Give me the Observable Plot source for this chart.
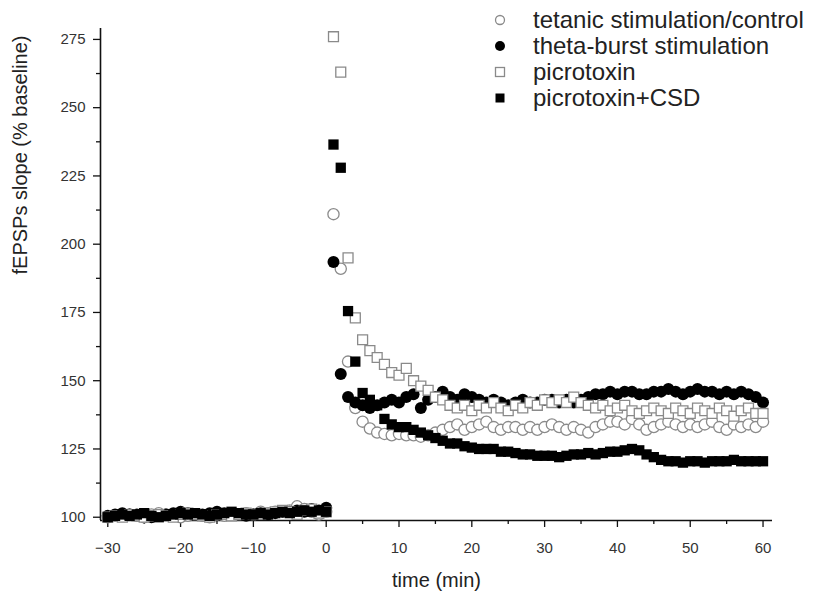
<!DOCTYPE html>
<html><head><meta charset="utf-8">
<script src="https://cdn.jsdelivr.net/npm/d3@7"></script>
<script src="https://cdn.jsdelivr.net/npm/@observablehq/plot@0.6"></script>
<style>
body{margin:0;background:#fff;}
#wrap{position:relative;width:816px;height:603px;font-family:"Liberation Sans",Arial,sans-serif;}
#legend{position:absolute;left:488px;top:7px;}
.row{display:flex;align-items:center;height:26px;font-size:24px;color:#222;white-space:nowrap;}
.row svg{width:24px;height:20px;margin-right:21px;}
</style></head><body><div id="wrap"><div id="chart"></div><div id="legend"></div></div>
<script>
// time grid (min)
const times = d3.range(-30, 61);
const seriesNames = ["tetanic stimulation/control", "theta-burst stimulation", "picrotoxin", "picrotoxin+CSD"];
const xTicks = [-30, -20, -10, 0, 10, 20, 30, 40, 50, 60];
const yTicks = [100, 125, 150, 175, 200, 225, 250, 275];

const tetanic = [
  100, 100.5, 101, 101, 100.5, 100, 101, 101.5, 101, 100.5, 100, 100.5, 101, 100.5, 100, 101, 100.5, 101, 101, 101.5, 101, 102, 101.5, 102, 102, 102.5, 104, 103, 102, 101, 102,
  211, 191, 157, 140, 135, 132.5, 131, 130.5, 130, 130.5,
  130, 130, 129.5, 130, 131, 132, 133, 134, 132, 133,
  134, 135, 133, 132, 133, 133, 132, 133, 132, 133,
  134, 133, 132, 133, 132, 131, 133, 134, 135, 135,
  134, 136, 134, 132, 133, 134, 135, 134, 133, 134,
  133, 134, 135, 133, 132, 134, 133, 134, 133, 135
];
const thetaBurst = [
  100.5, 101, 101.5, 101, 101, 100.5, 100, 100.5, 101, 101.5, 102, 101.5, 101, 101, 101.5, 102, 101.5, 101, 101, 100.5, 101, 101.5, 101, 101.5, 102, 102, 102.5, 102, 103, 102.5, 103.5,
  193.5, 152.5, 144, 142, 141, 140, 141, 142, 143, 142,
  144, 145, 140, 143, 144, 146, 144, 143, 145, 144,
  143, 142, 143, 142, 141, 142, 143, 142, 142, 143,
  143, 142, 143, 142, 143, 144, 145, 145, 146, 145,
  146, 146, 145, 145, 146, 146, 147, 146, 145, 146,
  147, 146, 146, 145, 146, 145, 146, 145, 144, 142
];
const picrotoxin = [
  100, 100.5, 100, 101, 100.5, 100, 100.5, 101, 100.5, 100, 101, 101.5, 101, 100.5, 100, 101, 101, 100.5, 101, 101.5, 101, 101, 101.5, 102, 102.5, 102, 101, 102.5, 103, 101.5, 102,
  276, 263, 195, 173, 165, 161, 158.5, 156, 153, 152,
  154.5, 150, 148, 146.5, 144, 143, 141, 140, 141, 139,
  141, 140, 142, 140, 139, 141, 140, 142, 141, 143,
  142, 143, 142, 144, 142, 141, 140, 141, 139, 140,
  141, 139, 138, 139, 140, 139, 138, 140, 139, 138,
  140, 139, 138, 140, 139, 137, 139, 140, 138, 138
];
const picrotoxinCSD = [
  100, 100.5, 101, 100.5, 101, 101.5, 100.5, 100, 100.5, 101, 101.5, 101, 101.5, 101, 100.5, 101, 101.5, 102, 101.5, 101, 101, 101.5, 101, 101.5, 102, 101.5, 102, 102.5, 102, 102.5, 102,
  236.5, 228, 175.5, 157, 145.5, 143, 141, 136, 134, 133,
  133, 132, 131, 130, 129, 128, 127, 127, 126, 125.5,
  125, 125, 125, 124, 124, 123.5, 123, 123, 122.5, 122.5,
  122.5, 122, 122.5, 123, 123, 123.5, 123, 123.5, 124, 124,
  124.5, 125, 124.5, 123, 122, 121, 120.5, 120.5, 120, 120.5,
  120.5, 120, 120.5, 120.5, 120.5, 121, 120.5, 120.5, 120.5, 120.5
];

const toRows = (vals) => vals.map((v, i) => ({t: times[i], v}));
const xMinor = d3.range(-25, 61, 10);
const yMinor = d3.range(112.5, 276, 25);
const xDom = [-31, 61.3], yDom = [98.8, 279];
const openStroke = "#8a8a8a";
const font = "Liberation Sans, Arial, sans-serif";

const chart = Plot.plot({
  width: 816, height: 603,
  marginLeft: 100, marginRight: 44, marginTop: 28, marginBottom: 83,
  style: {fontFamily: font, background: "white", overflow: "visible"},
  x: {domain: xDom},
  y: {domain: yDom},
  marks: [
    Plot.axisX(xTicks, {tickSize: 7, tickPadding: 15, fontSize: 15, fill: "#333", stroke: "#111", strokeWidth: 1.3, label: null}),
    Plot.axisX(xMinor, {tickSize: 4, tickFormat: () => "", stroke: "#111", strokeWidth: 1.3, label: null}),
    Plot.axisY(yTicks, {tickSize: 7, tickPadding: 8, fontSize: 15, fill: "#333", stroke: "#111", strokeWidth: 1.3, label: null}),
    Plot.axisY(yMinor, {tickSize: 4, tickFormat: () => "", stroke: "#111", strokeWidth: 1.3, label: null}),
    Plot.ruleX([xDom[0]], {stroke: "#111", strokeWidth: 1.6}),
    Plot.ruleY([yDom[0]], {stroke: "#111", strokeWidth: 1.6}),
    Plot.dot(toRows(tetanic), {x: "t", y: "v", r: 5.6, fill: "white", stroke: openStroke, strokeWidth: 1.3}),
    Plot.dot(toRows(thetaBurst), {x: "t", y: "v", r: 6, fill: "black", stroke: "none"}),
    Plot.dot(toRows(picrotoxin), {x: "t", y: "v", symbol: "square", r: 5.6, fill: "white", stroke: openStroke, strokeWidth: 1.3}),
    Plot.dot(toRows(picrotoxinCSD), {x: "t", y: "v", symbol: "square", r: 5.8, fill: "black", stroke: "none"}),
    Plot.text(["time (min)"], {frameAnchor: "bottom", dy: 66, fontSize: 20, fill: "#222"}),
    Plot.text(["fEPSPs slope (% baseline)"], {frameAnchor: "left", dx: -80, rotate: -90, fontSize: 20, fill: "#222"})
  ]
});
document.getElementById("chart").appendChild(chart);

// legend
const legendSymbols = [
  `<circle cx="12" cy="10" r="4.5" fill="white" stroke="${openStroke}" stroke-width="1.3"/>`,
  `<circle cx="12" cy="10" r="5" fill="black"/>`,
  `<rect x="7.5" y="5.5" width="9" height="9" fill="white" stroke="${openStroke}" stroke-width="1.3"/>`,
  `<rect x="7.5" y="5.5" width="9" height="9" fill="black"/>`
];
const legend = document.getElementById("legend");
seriesNames.forEach((name, i) => {
  const row = document.createElement("div");
  row.className = "row";
  row.innerHTML = `<svg viewBox="0 0 24 20">${legendSymbols[i]}</svg><span>${name}</span>`;
  legend.appendChild(row);
});
</script>
</body></html>
